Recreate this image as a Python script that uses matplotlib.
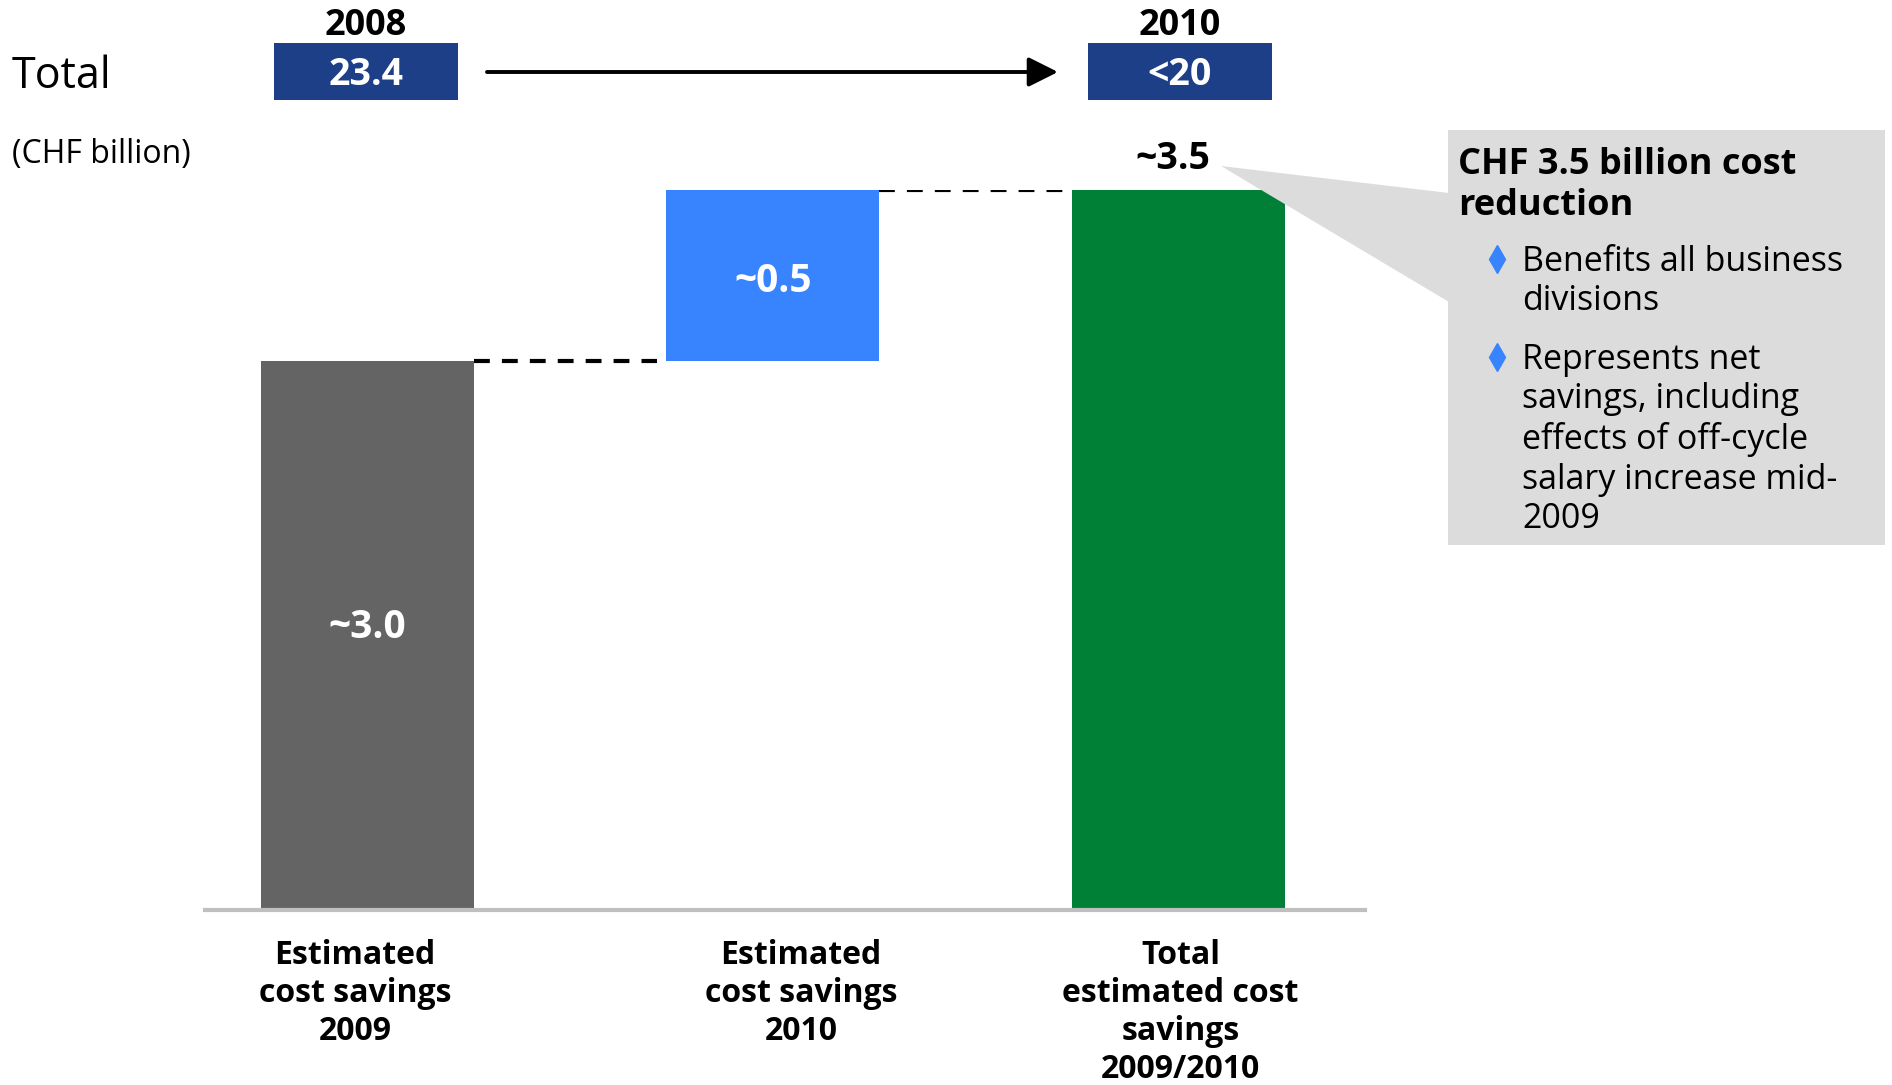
import numpy as np
import matplotlib
matplotlib.use("Agg")
import matplotlib.pyplot as plt
from matplotlib.patches import Rectangle, Polygon, FancyArrowPatch
from matplotlib.lines import Line2D
from matplotlib.transforms import blended_transform_factory

plt.rcParams["font.family"] = ["Open Sans", "DejaVu Sans"]

# ---- data -------------------------------------------------------------
categories = ["Estimated\ncost savings\n2009",
              "Estimated\ncost savings\n2010",
              "Total\nestimated cost\nsavings\n2009/2010"]
step_values = [3.0, 0.5]                 # savings 2009, additional savings 2010
total_value = sum(step_values)           # 3.5
value_labels = ["~3.0", "~0.5", "~3.5"]

years = ["2008", "2010"]
cost_base_labels = ["23.4", "<20"]

callout_title = "CHF 3.5 billion cost\nreduction"
callout_points = ["Benefits all business\ndivisions",
                  "Represents net\nsavings, including\neffects of off-cycle\nsalary increase mid-\n2009"]

# ---- styling ----------------------------------------------------------
BAR_COLORS = ["#646464", "#3884ff", "#007f37"]
NAVY = "#1c3f87"
CALLOUT = "#dcdcdc"
BASELINE = "#bfbfbf"

W, H = 1892, 1085
fig = plt.figure(figsize=(W / 100, H / 100), dpi=100)


def fx(px):
    return px / W


def fy(py):
    return 1 - py / H


# bar heights are shown on a stretched power scale
P = 1.76


def fwd(v):
    return np.sign(v) * np.abs(v) ** P


def inv(v):
    return np.sign(v) * np.abs(v) ** (1 / P)


ax = fig.add_axes([fx(205), fy(910), (1365 - 205) / W, (910 - 190) / H])
ax.set_yscale("function", functions=(fwd, inv))
ax.set_ylim(0, total_value)
ax.set_xlim(-0.40, 2.46)
ax.axis("off")

x = np.arange(3)
bottoms = [0, step_values[0], 0]
heights = [step_values[0], step_values[1], total_value]
bar_width = 0.525
ax.bar(x, heights, bottom=bottoms, width=bar_width, color=BAR_COLORS,
       zorder=2, linewidth=0)

# baseline
ax.axhline(0, color=BASELINE, lw=3, clip_on=False, zorder=3)

# connectors between steps (stop just short of the next bar)
dash = dict(color="black", lw=3.0, linestyle=(0, (3.8, 2.9)), zorder=1,
            dash_capstyle="butt")
gap = 0.022
ax.plot([x[0] + bar_width / 2, x[1] - bar_width / 2 - gap],
        [step_values[0]] * 2, **dash)
ax.plot([x[1] + bar_width / 2, x[2] - bar_width / 2 - gap],
        [total_value] * 2, **dash)

# values inside bars, placed at the visual middle of each bar
mid0 = inv(0.515 * fwd(step_values[0]))
mid1 = inv(0.535 * fwd(step_values[0]) + 0.465 * fwd(total_value))
ax.text(x[0], mid0, value_labels[0], color="white",
        fontsize=28, fontweight="bold", ha="center", va="center")
ax.text(x[1], mid1, value_labels[1], color="white", fontsize=28,
        fontweight="bold", ha="center", va="center")
ax.annotate(value_labels[2], (x[2], total_value), xytext=(-4, 22),
            textcoords="offset points", ha="center", va="center",
            fontsize=27, fontweight="bold", color="black")

# category labels below the axis
label_shift = [-0.03, 0.07, 0.005]
tr = blended_transform_factory(ax.transData, fig.transFigure)
for xi, lab, s in zip(x, categories, label_shift):
    ax.text(xi + s, fy(939), lab, transform=tr, ha="center", va="top",
            fontsize=23, fontweight="bold", linespacing=1.2,
            multialignment="center")

# ---- header: total cost base 2008 -> 2010 -----------------------------
fig.text(fx(12), fy(77), "Total", fontsize=31, ha="left", va="center")
fig.text(fx(12), fy(155), "(CHF billion)", fontsize=23, ha="left",
         va="center")

box_centers = [366, 1180]
for cx, yr, val in zip(box_centers, years, cost_base_labels):
    fig.text(fx(cx), fy(26), yr, fontsize=26, fontweight="bold",
             ha="center", va="center")
    fig.add_artist(Rectangle((fx(cx - 92), fy(100)), 184 / W, 57 / H,
                             transform=fig.transFigure, color=NAVY,
                             linewidth=0))
    fig.text(fx(cx), fy(75), val, fontsize=27, fontweight="bold",
             color="white", ha="center", va="center")

fig.add_artist(FancyArrowPatch((fx(487), fy(72)), (fx(1058), fy(72)),
                               transform=fig.transFigure,
                               arrowstyle="-|>,head_length=0.9,head_width=0.45",
                               mutation_scale=20, lw=2.8, color="black",
                               shrinkA=0, shrinkB=0))

# ---- callout ----------------------------------------------------------
pointer = Polygon([(fx(1221), fy(166)), (fx(1449), fy(193)),
                   (fx(1449), fy(302))], closed=True,
                  transform=fig.transFigure, color=CALLOUT, linewidth=0,
                  zorder=5)
fig.add_artist(pointer)
fig.add_artist(Rectangle((fx(1448), fy(545)), (1885 - 1448) / W,
                         (545 - 130) / H, transform=fig.transFigure,
                         color=CALLOUT, linewidth=0, zorder=5))

fig.text(fx(1458), fy(147), callout_title, fontsize=26, fontweight="bold",
         ha="left", va="top", linespacing=1.18, zorder=6)

bullet_y = [259, 357]
for by, txt in zip(bullet_y, callout_points):
    fig.add_artist(Line2D([fx(1497)], [fy(by)], marker="d", markersize=14,
                          color="#3884ff", transform=fig.transFigure,
                          zorder=6))
    fig.text(fx(1522), fy(by - 14), txt, fontsize=24.5, ha="left", va="top",
             linespacing=1.21, zorder=6)

fig.savefig("out.png", dpi=100)
